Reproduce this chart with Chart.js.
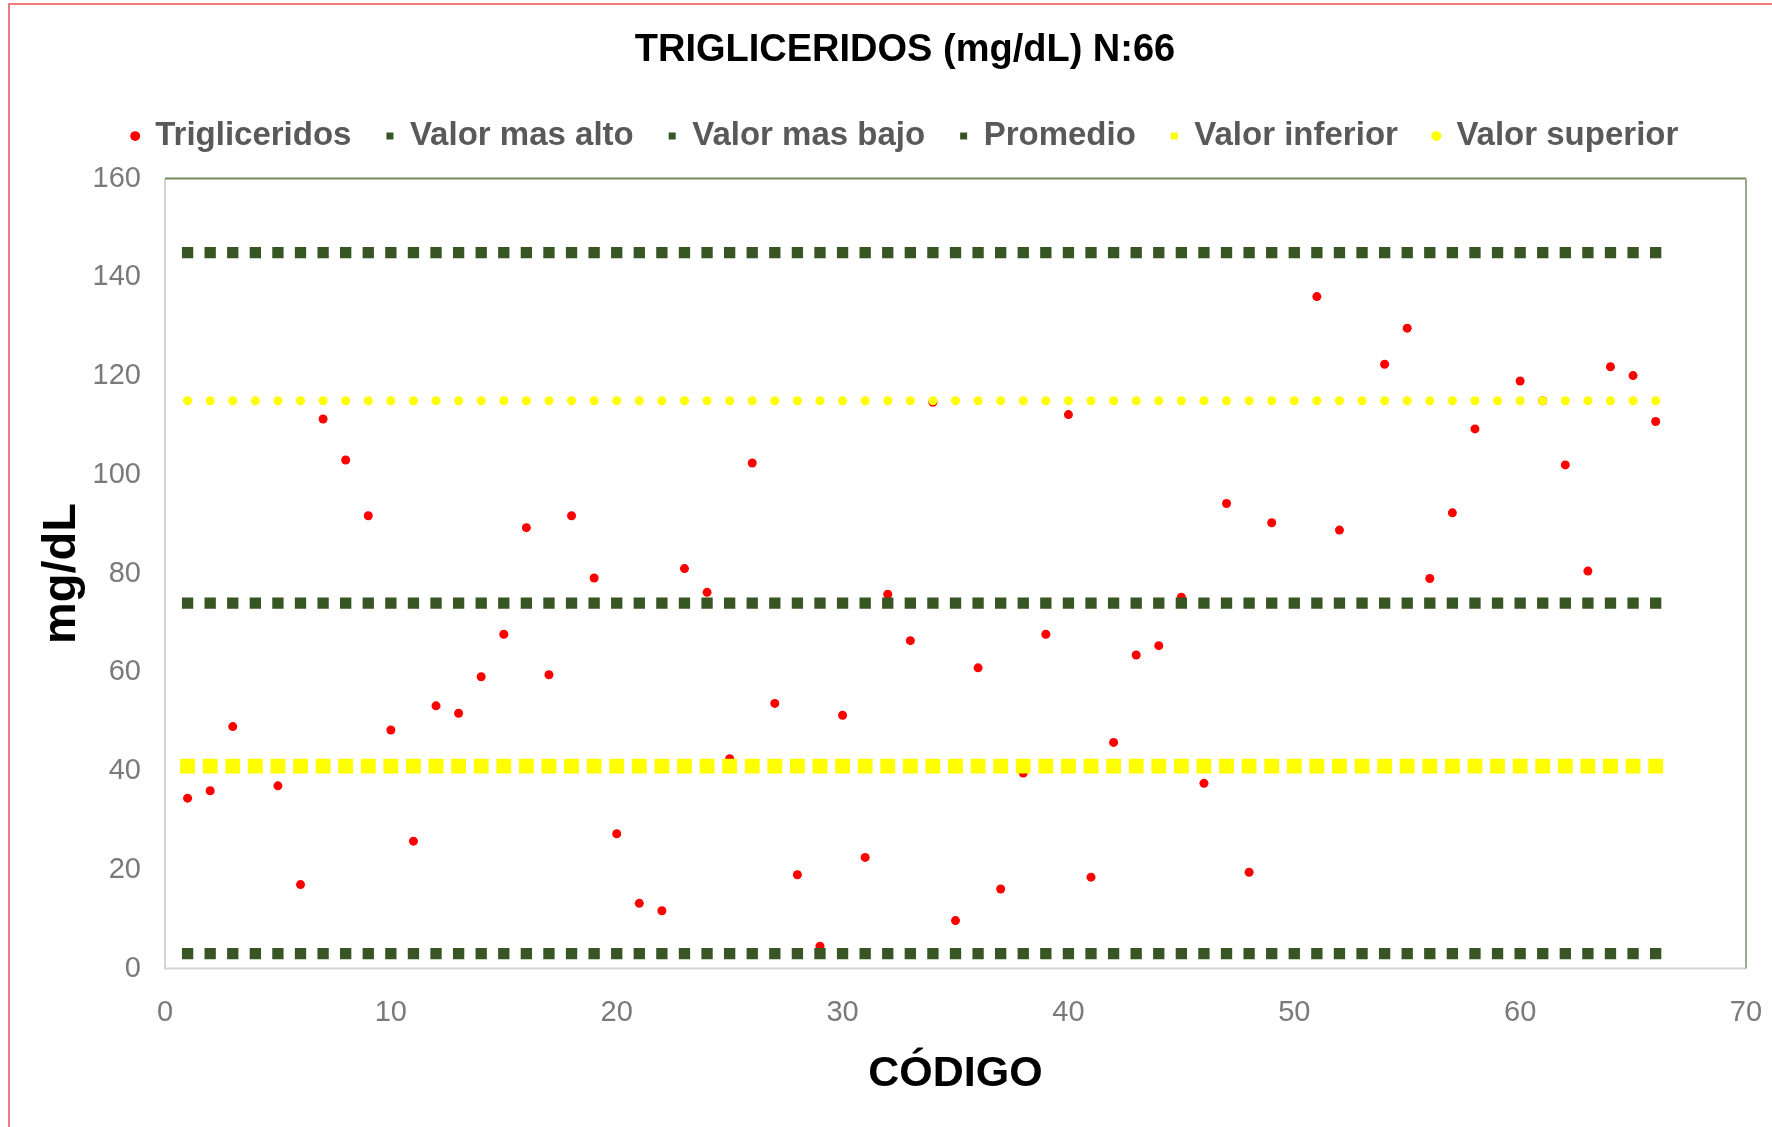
<!DOCTYPE html>
<html>
<head>
<meta charset="utf-8">
<script src="https://cdn.jsdelivr.net/npm/chart.js@4.4.1/dist/chart.umd.min.js"></script>
<style>
html,body{margin:0;padding:0;background:#fff;}
#wrap{position:relative;width:1772px;height:1127px;overflow:hidden;background:#fff;}
#c{position:absolute;left:0;top:0;}
#frame{position:absolute;left:8px;top:3px;width:1800px;height:1200px;border-top:2px solid #f07c7c;border-left:2px solid #f07c7c;pointer-events:none;}
</style>
</head>
<body>
<div id="wrap"><canvas id="c" width="1772" height="1127"></canvas><div id="frame"></div></div>
<script>
// ---- data ----
const codigos = [1,2,3,4,5,6,7,8,9,10,11,12,13,14,15,16,17,18,19,20,21,22,23,24,25,26,27,28,29,30,31,32,33,34,35,36,37,38,39,40,41,42,43,44,45,46,47,48,49,50,51,52,53,54,55,56,57,58,59,60,61,62,63,64,65,66];
const trigliceridos = [34.5,36,49,3,37,17,111.3,103,91.7,48.3,25.8,53.2,51.7,59.1,67.7,89.3,59.5,91.7,79.1,27.3,13.2,11.7,81,76.2,42.5,102.4,53.7,19,4.5,51.3,22.5,75.8,66.4,114.7,9.7,60.9,16.1,39.6,67.7,112.2,18.5,45.8,63.5,65.4,75.2,37.5,94.2,19.5,90.3,145,136.1,88.8,74,122.4,129.7,79,92.3,109.3,41,119,115,102,80.5,121.9,120.1,110.8];
const valorMasAlto = 145;
const valorMasBajo = 3;
const promedio = 74;
const valorInferior = 41;
const valorSuperior = 115;
const yTicks = [0,20,40,60,80,100,120,140,160];
const xTicks = [0,10,20,30,40,50,60,70];

const FONT = "'Liberation Sans',Arial,sans-serif";
const GREEN = '#375623';
const YELLOW = '#ffff00';
const RED = '#ff0000';

const pts = (vals) => codigos.map((c, i) => ({x: c, y: vals[i]}));
const flat = (v) => codigos.map(c => ({x: c, y: v}));

const framePlugin = {
  id: 'frame',
  beforeDatasetsDraw(chart) {
    const {ctx, chartArea: a} = chart;
    ctx.save();
    ctx.lineWidth = 2;
    ctx.strokeStyle = '#d4d4d4';
    ctx.beginPath();
    ctx.moveTo(a.left, a.top);
    ctx.lineTo(a.left, a.bottom);
    ctx.lineTo(a.right, a.bottom);
    ctx.stroke();
    ctx.strokeStyle = '#6f8b58';
    ctx.beginPath();
    ctx.moveTo(a.left, a.top);
    ctx.lineTo(a.right, a.top);
    ctx.stroke();
    ctx.strokeStyle = '#9aab8c';
    ctx.beginPath();
    ctx.moveTo(a.right, a.top);
    ctx.lineTo(a.right, a.bottom);
    ctx.stroke();
    ctx.restore();
  }
};

new Chart(document.getElementById('c'), {
  type: 'scatter',
  data: {
    datasets: [
      {label: 'Trigliceridos', data: pts(trigliceridos), pointStyle: 'circle', pointRadius: 4.5, backgroundColor: RED, borderColor: RED, borderWidth: 0, order: 1},
      {label: 'Valor mas alto', data: flat(valorMasAlto), pointStyle: 'rect', pointRadius: 8, backgroundColor: GREEN, borderColor: GREEN, borderWidth: 0, order: 0},
      {label: 'Valor mas bajo', data: flat(valorMasBajo), pointStyle: 'rect', pointRadius: 8, backgroundColor: GREEN, borderColor: GREEN, borderWidth: 0, order: 0},
      {label: 'Promedio', data: flat(promedio), pointStyle: 'rect', pointRadius: 8, backgroundColor: GREEN, borderColor: GREEN, borderWidth: 0, order: 0},
      {label: 'Valor inferior', data: flat(valorInferior), pointStyle: 'rect', pointRadius: 10.5, backgroundColor: YELLOW, borderColor: YELLOW, borderWidth: 0, order: 0},
      {label: 'Valor superior', data: flat(valorSuperior), pointStyle: 'circle', pointRadius: 4.5, backgroundColor: YELLOW, borderColor: YELLOW, borderWidth: 0, order: 0}
    ]
  },
  options: {
    responsive: false,
    animation: false,
    devicePixelRatio: 1,
    layout: {padding: {left: 64, right: 26, top: 0, bottom: 0}},
    plugins: {
      title: {display: true, text: 'TRIGLICERIDOS (mg/dL) N:66', color: '#000', font: {family: FONT, size: 38, weight: 'bold'}, padding: {top: 28, bottom: 11}},
      legend: {
        display: true,
        labels: {
          usePointStyle: true, boxWidth: 7, boxHeight: 7, padding: 35, color: '#595959',
          font: {family: FONT, size: 33, weight: 'bold'},
          sort: (a, b) => a.datasetIndex - b.datasetIndex
        }
      },
      tooltip: {enabled: false}
    },
    scales: {
      x: {
        type: 'linear', position: 'bottom', min: 0, max: 70,
        afterBuildTicks: (s) => { s.ticks = xTicks.map(v => ({value: v})); },
        ticks: {color: '#7a7a7a', font: {family: FONT, size: 29}, padding: 27},
        grid: {display: false, drawTicks: false},
        border: {display: false},
        title: {display: true, text: 'CÓDIGO', color: '#000', font: {family: FONT, size: 43, weight: 'bold'}, padding: {top: 27, bottom: 27}},
        afterFit: (s) => { s.height = 158.5; s.paddingLeft = 0; s.paddingRight = 0; }
      },
      x2: {
        type: 'linear', position: 'top', display: true,
        ticks: {display: false}, grid: {display: false, drawTicks: false}, border: {display: false},
        afterFit: (s) => { s.height = 16; s.paddingLeft = 0; s.paddingRight = 0; }
      },
      y: {
        type: 'linear', position: 'left', min: 0, max: 160,
        afterBuildTicks: (s) => { s.ticks = yTicks.map(v => ({value: v})); },
        ticks: {color: '#7a7a7a', font: {family: FONT, size: 29}, padding: 24},
        grid: {display: false, drawTicks: false},
        border: {display: false},
        title: {display: true, text: 'mg/dL', color: '#000', font: {family: FONT, size: 47, weight: 'bold'}, padding: {top: -30.2, bottom: 0}},
        afterFit: (s) => { s.width = 101; }
      }
    }
  },
  plugins: [framePlugin]
});
</script>
</body>
</html>
